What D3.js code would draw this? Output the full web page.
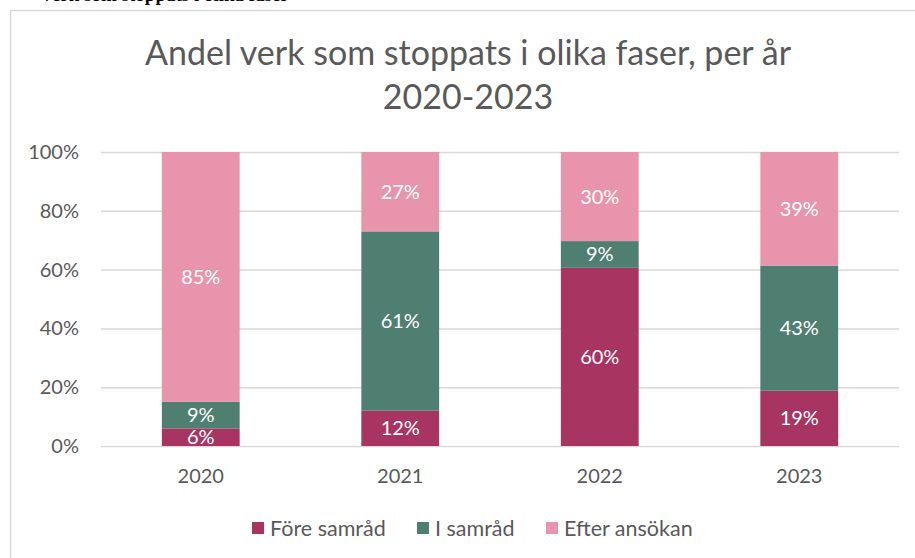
<!DOCTYPE html>
<html>
<head>
<meta charset="utf-8">
<script src="https://cdn.jsdelivr.net/npm/d3@7"></script>
<style>
  body { margin: 0; background: #fff; }
  text { font-family: Lato, "Open Sans", sans-serif; }
</style>
</head>
<body>
<div id="chart"></div>
<script>
// data
var years = ["2020", "2021", "2022", "2023"];
var phases = ["Före samråd", "I samråd", "Efter ansökan"];
var foreSamrad = [6, 12, 60, 19];
var iSamrad = [9, 61, 9, 43];
var efterAnsokan = [85, 27, 30, 39];
var yTicks = [0, 0.2, 0.4, 0.6, 0.8, 1];
var colors = ["#a83462", "#4f7f71", "#e894ac"];

var width = 915, height = 558;

var svg = d3.select("#chart").append("svg")
    .attr("width", width)
    .attr("height", height);

// cut-off heading above the chart frame (only its lower edge shows)
svg.append("text")
    .attr("x", 40)
    .attr("y", 1)
    .style("font-family", "'Liberation Serif', serif")
    .style("font-weight", "bold")
    .style("font-size", "19px")
    .attr("fill", "#000")
    .text("Verk som stoppats i olika faser");

// chart frame
svg.append("rect")
    .attr("x", 10.5).attr("y", 10.5)
    .attr("width", 940).attr("height", 600)
    .attr("fill", "none")
    .attr("stroke", "#d9d9d9")
    .attr("stroke-width", 1.5);

// title
var title = svg.append("text")
    .attr("text-anchor", "middle")
    .attr("fill", "#595959")
    .style("font-size", "34px");
title.append("tspan").attr("x", 468).attr("y", 65).text("Andel verk som stoppats i olika faser, per år");
title.append("tspan").attr("x", 468).attr("y", 109).text("2020-2023");

// build table
var table = years.map(function (y, i) {
    return { year: y, "Före samråd": foreSamrad[i], "I samråd": iSamrad[i], "Efter ansökan": efterAnsokan[i] };
});

var x = d3.scaleBand()
    .domain(years)
    .range([101, 899])
    .paddingInner(0.61)
    .paddingOuter(0.305);

var y = d3.scaleLinear()
    .domain([0, 1])
    .range([446, 152]);

var color = d3.scaleOrdinal(phases, colors);

// gridlines + y labels
var yAxis = svg.append("g")
    .attr("transform", "translate(101,0)")
    .call(d3.axisLeft(y)
        .tickValues(yTicks)
        .tickSize(-798)
        .tickPadding(22)
        .tickFormat(d3.format(".0%")));
yAxis.select(".domain").remove();
yAxis.selectAll("line").attr("stroke", "#d9d9d9").attr("stroke-width", 1.5);
yAxis.selectAll("text")
    .attr("fill", "#595959")
    .style("font-size", "20px")
    .style("font-family", "Lato, sans-serif");

// stacked bars (normalised like a 100% stacked chart)
var stack = d3.stack()
    .keys(phases)
    .offset(d3.stackOffsetExpand);
var series = stack(table);

var groups = svg.selectAll(".serie")
    .data(series)
    .enter().append("g")
    .attr("class", "serie")
    .attr("fill", function (d) { return color(d.key); });

groups.selectAll("rect")
    .data(function (d) { return d; })
    .enter().append("rect")
    .attr("x", function (d) { return x(d.data.year); })
    .attr("width", x.bandwidth())
    .attr("y", function (d) { return y(d[1]); })
    .attr("height", function (d) { return y(d[0]) - y(d[1]); });

// data labels
groups.selectAll(".lbl")
    .data(function (s) {
        return s.map(function (d) { d.key = s.key; return d; });
    })
    .enter().append("text")
    .attr("class", "lbl")
    .attr("x", function (d) { return x(d.data.year) + x.bandwidth() / 2; })
    .attr("y", function (d) { return (y(d[0]) + y(d[1])) / 2; })
    .attr("dy", "0.35em")
    .attr("text-anchor", "middle")
    .attr("fill", "#fff")
    .style("font-size", "20px")
    .text(function (d) { return d.data[d.key] + "%"; });

// x labels
svg.selectAll(".xlbl")
    .data(years)
    .enter().append("text")
    .attr("class", "xlbl")
    .attr("x", function (d) { return x(d) + x.bandwidth() / 2; })
    .attr("y", 483)
    .attr("text-anchor", "middle")
    .attr("fill", "#595959")
    .style("font-size", "20px")
    .text(function (d) { return d; });

// legend
var legendX = [252, 417, 546];
var legend = svg.selectAll(".legend")
    .data(phases)
    .enter().append("g")
    .attr("class", "legend")
    .attr("transform", function (d, i) { return "translate(" + legendX[i] + ",522)"; });

legend.append("rect")
    .attr("width", 12)
    .attr("height", 12)
    .attr("fill", function (d) { return color(d); });

legend.append("text")
    .attr("x", 18)
    .attr("y", 6)
    .attr("dy", "0.35em")
    .attr("fill", "#595959")
    .style("font-size", "21.5px")
    .text(function (d) { return d; });
</script>
</body>
</html>
